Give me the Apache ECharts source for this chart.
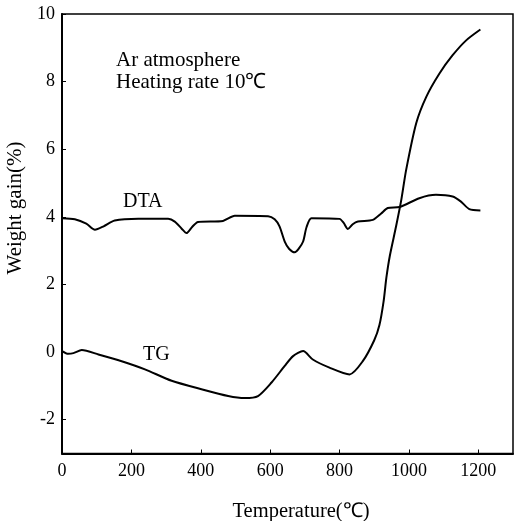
<!DOCTYPE html>
<html>
<head>
<meta charset="utf-8">
<script src="https://cdn.jsdelivr.net/npm/echarts@6/dist/echarts.min.js"></script>
<style>
  html, body { margin: 0; padding: 0; background: #fff; }
  #chart { width: 514px; height: 521px; }
</style>
</head>
<body>
<div id="chart"></div>
<script>
// values
var xTicks = [0, 200, 400, 600, 800, 1000, 1200]
var yTicks = [-2, 0, 2, 4, 6, 8, 10]

var tgTemp = [0, 18, 33, 57, 105, 172, 239, 316, 402, 479, 527, 565, 604, 642, 666, 695, 723, 771, 829, 867, 900, 915, 927, 935, 945, 963, 978, 992, 1021, 1050, 1088, 1126, 1165, 1206]
var tgWeight = [0.03, -0.05, -0.03, 0.06, -0.07, -0.27, -0.51, -0.85, -1.10, -1.30, -1.36, -1.30, -0.90, -0.41, -0.12, 0.03, -0.22, -0.46, -0.66, -0.27, 0.35, 0.8, 1.5, 2.2, 2.85, 3.72, 4.50, 5.39, 6.77, 7.55, 8.24, 8.78, 9.22, 9.54]

var dtaTemp = [0, 37, 70, 95, 120, 152, 220, 306, 325, 345, 359, 375, 392, 464, 498, 594, 613, 627, 642, 655, 671, 682, 695, 705, 719, 800, 812, 824, 838, 853, 896, 920, 939, 973, 1030, 1078, 1126, 1150, 1174, 1206]
var dtaSignal = [3.96, 3.93, 3.8, 3.62, 3.72, 3.89, 3.94, 3.94, 3.86, 3.65, 3.52, 3.7, 3.85, 3.88, 4.03, 4.02, 3.93, 3.72, 3.27, 3.05, 2.95, 3.05, 3.27, 3.7, 3.96, 3.94, 3.82, 3.64, 3.78, 3.86, 3.91, 4.1, 4.26, 4.29, 4.55, 4.65, 4.6, 4.45, 4.23, 4.19]

function pairs (xs, ys) {
  return xs.map(function (x, i) { return [x, ys[i]] })
}

var serif = 'Liberation Serif'

var chart = echarts.init(document.getElementById('chart'))
var option = {
  animation: false,
  backgroundColor: '#fff',
  grid: {
    left: 62, right: 1, top: 14, bottom: 67.5,
    show: true, borderColor: '#000', borderWidth: 1.5
  },
  xAxis: {
    type: 'value',
    min: 0,
    max: 1300,
    splitLine: { show: false },
    axisLine: { onZero: false, lineStyle: { color: '#000', width: 2 } },
    axisTick: { inside: true, length: 4, customValues: xTicks, lineStyle: { color: '#000' } },
    axisLabel: {
      customValues: xTicks, color: '#000', fontFamily: serif, fontSize: 18, margin: 9,
      formatter: function (v) { return String(v) }
    }
  },
  yAxis: {
    type: 'value',
    min: -3,
    max: 10,
    splitLine: { show: false },
    axisLine: { onZero: false, lineStyle: { color: '#000', width: 2 } },
    axisTick: { inside: true, length: 4, customValues: yTicks, lineStyle: { color: '#000' } },
    axisLabel: { customValues: yTicks, color: '#000', fontFamily: serif, fontSize: 18, margin: 7 }
  },
  graphic: [
    { type: 'text', left: 116, top: 50, style: { text: 'Ar atmosphere', font: '21px "Liberation Serif"', fill: '#000' } },
    { type: 'text', left: 116, top: 72, style: { text: 'Heating rate 10℃', font: '21px "Liberation Serif"', fill: '#000' } },
    { type: 'text', left: 123, top: 192, style: { text: 'DTA', font: '20px "Liberation Serif"', fill: '#000' } },
    { type: 'text', left: 143, top: 345, style: { text: 'TG', font: '20px "Liberation Serif"', fill: '#000' } },
    {
      type: 'text', x: 15, y: 208, rotation: Math.PI / 2,
      style: { text: 'Weight gain(%)', font: '21px "Liberation Serif"', fill: '#000', align: 'center', verticalAlign: 'middle' }
    },
    {
      type: 'text', x: 301, y: 512,
      style: { text: 'Temperature(℃)', font: '20.5px "Liberation Serif"', fill: '#000', align: 'center', verticalAlign: 'middle' }
    }
  ],
  series: [
    {
      name: 'TG',
      type: 'line',
      data: pairs(tgTemp, tgWeight),
      smooth: 0.25,
      showSymbol: false,
      lineStyle: { color: '#000', width: 2 }
    },
    {
      name: 'DTA',
      type: 'line',
      data: pairs(dtaTemp, dtaSignal),
      smooth: 0.25,
      showSymbol: false,
      lineStyle: { color: '#000', width: 2 }
    }
  ]
}
chart.setOption(option)
</script>
</body>
</html>
